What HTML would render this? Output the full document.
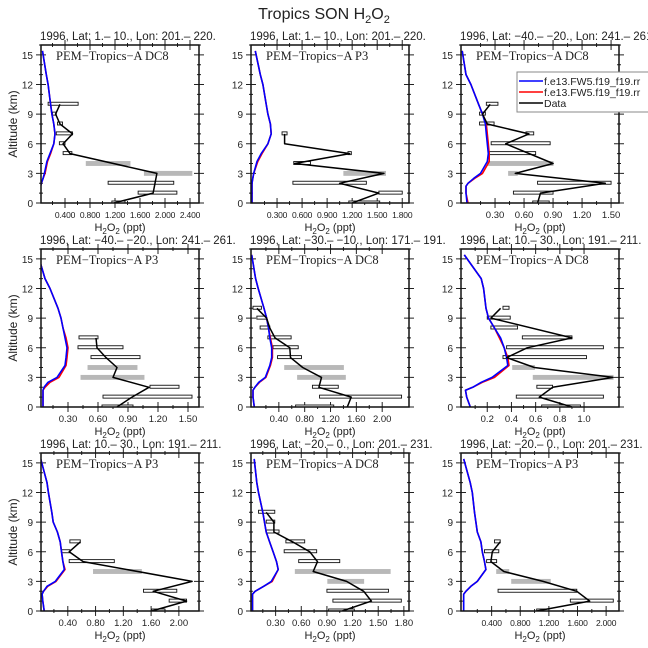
<!DOCTYPE html>
<html><head><meta charset="utf-8"><style>
body{margin:0;background:#fff}
svg{display:block}
text{font-family:"Liberation Sans",sans-serif;fill:#222}
</style></head><body>
<svg id="c" width="648" height="648" viewBox="0 0 648 648" xmlns="http://www.w3.org/2000/svg">
<text x="324" y="19" text-anchor="middle" font-size="16">Tropics SON H<tspan font-size="11" dy="4">2</tspan><tspan dy="-4">O</tspan><tspan font-size="11" dy="4">2</tspan></text>
</svg>
<script>
const panelTitles=["1996, Lat: 1.– 10., Lon: 201.– 220.","1996, Lat: 1.– 10., Lon: 201.– 220.","1996, Lat: −40.– −20., Lon: 241.– 261.","1996, Lat: −40.– −20., Lon: 241.– 261.","1996, Lat: −30.– −10., Lon: 171.– 191.","1996, Lat: 10.– 30., Lon: 191.– 211.","1996, Lat: 10.– 30., Lon: 191.– 211.","1996, Lat: −20.– 0., Lon: 201.– 231.","1996, Lat: −20.– 0., Lon: 201.– 231."];
const campaigns=["PEM−Tropics−A DC8","PEM−Tropics−A P3","PEM−Tropics−A DC8","PEM−Tropics−A P3","PEM−Tropics−A DC8","PEM−Tropics−A DC8","PEM−Tropics−A P3","PEM−Tropics−A DC8","PEM−Tropics−A P3"];
const xMin=[0.016,-0.012,-0.052,0.03,-0.031,-0.017,0.014,0.012,-0.028];
const xMax=[2.544,1.881,1.582,1.61,2.415,1.289,2.29,1.86,2.18];
const xTicks=[[0.4,0.8,1.2,1.6,2.0,2.4],[0.3,0.6,0.9,1.2,1.5,1.8],[0.3,0.6,0.9,1.2,1.5],[0.3,0.6,0.9,1.2,1.5],[0.4,0.8,1.2,1.6,2.0],[0.2,0.4,0.6,0.8,1.0],[0.4,0.8,1.2,1.6,2.0],[0.3,0.6,0.9,1.2,1.5,1.8],[0.4,0.8,1.2,1.6,2.0]];
const xDecimals=[3,3,2,2,2,1,2,2,3];
const yTicks=[0,3,6,9,12,15];
const modelAlt=[0,1,1.7,2,2.5,3,4.2,5,6,7,8,9,10,12,13,15.4];
const modelBlue=[
[0.01,0.01,0.01,0.02,0.05,0.07,0.11,0.16,0.22,0.24,0.22,0.19,0.17,0.13,0.1,0.04],
[0.0,0.0,0.0,0.0,0.01,0.02,0.06,0.11,0.19,0.23,0.22,0.19,0.17,0.13,0.1,0.04],
[0.01,0.0,0.0,0.02,0.08,0.15,0.22,0.23,0.22,0.21,0.2,0.17,0.13,0.05,0.0,-0.04],
[0.05,0.05,0.05,0.06,0.1,0.19,0.27,0.28,0.29,0.27,0.25,0.23,0.2,0.12,0.07,0.0],
[0.02,0.0,0.0,0.03,0.09,0.19,0.26,0.29,0.29,0.26,0.24,0.21,0.17,0.08,0.04,-0.02],
[0.06,0.03,0.02,0.08,0.15,0.24,0.37,0.36,0.34,0.31,0.26,0.21,0.19,0.17,0.15,0.01],
[0.06,0.04,0.03,0.05,0.1,0.22,0.35,0.33,0.31,0.29,0.25,0.19,0.17,0.12,0.1,0.01],
[0.03,0.03,0.03,0.06,0.16,0.25,0.33,0.31,0.27,0.23,0.19,0.17,0.15,0.1,0.08,0.05],
[0.01,0.01,0.01,0.04,0.11,0.2,0.32,0.3,0.27,0.25,0.2,0.18,0.16,0.13,0.1,0.01]];
const modelRed=[
[0.01,0.01,0.01,0.02,0.05,0.08,0.12,0.17,0.22,0.24,0.22,0.19,0.17,0.13,0.1,0.04],
[0.0,0.0,0.0,0.0,0.01,0.02,0.07,0.12,0.19,0.23,0.22,0.19,0.17,0.13,0.1,0.04],
[0.02,0.0,0.0,0.02,0.09,0.17,0.24,0.24,0.23,0.22,0.21,0.17,0.13,0.05,0.0,-0.04],
[0.05,0.05,0.05,0.07,0.12,0.21,0.28,0.29,0.3,0.28,0.25,0.23,0.2,0.12,0.07,0.0],
[0.02,0.0,0.0,0.03,0.1,0.2,0.27,0.3,0.3,0.27,0.24,0.21,0.17,0.08,0.04,-0.02],
[0.06,0.03,0.02,0.08,0.16,0.26,0.38,0.37,0.34,0.3,0.26,0.21,0.19,0.17,0.15,0.01],
[0.06,0.04,0.03,0.05,0.11,0.23,0.36,0.33,0.31,0.29,0.25,0.19,0.17,0.12,0.1,0.01],
[0.03,0.03,0.03,0.06,0.16,0.26,0.33,0.31,0.27,0.23,0.19,0.17,0.15,0.1,0.08,0.05],
[0.01,0.01,0.01,0.04,0.11,0.2,0.32,0.3,0.27,0.25,0.2,0.18,0.16,0.13,0.1,0.01]];
const obsAlt=[0,1,2,3,4,5,6,7,8,9,10];
const obsMed=[
[1.18,1.81,1.84,1.87,null,0.48,0.37,0.52,0.32,0.25,0.32],
[1.2,1.52,1.05,1.58,0.51,1.17,0.39,0.39,null,null,null],
[0.74,0.77,1.44,0.51,0.9,null,0.41,0.65,0.22,0.17,0.25],
[0.79,0.94,1.11,0.75,0.79,0.68,0.59,0.58,null,null,null],
[1.46,1.52,1.02,1.06,0.77,0.58,0.57,0.34,0.26,0.21,0.06],
[0.9,0.63,0.74,1.24,0.59,0.36,0.53,0.9,null,0.23,0.31],
[1.61,2.11,1.63,2.19,null,0.62,0.42,0.58,null,null,null],
[1.08,1.42,1.33,1.13,0.74,0.79,0.7,0.5,0.28,0.28,0.19],
[1.03,1.77,1.59,1.12,0.57,0.39,0.41,0.52,null,null,null]];
const obsLo=[
[1.15,1.57,1.09,1.67,0.74,0.37,0.31,0.26,0.28,0.2,0.13],
[1.16,1.52,0.49,1.1,0.5,1.15,null,0.36,null,null,null],
[0.69,0.49,0.74,0.44,0.22,0.24,0.26,0.62,0.14,0.14,0.21],
[0.64,0.65,1.12,0.43,0.5,0.53,0.4,0.41,null,null,null],
[0.66,1.03,0.92,0.69,0.49,0.38,0.31,0.23,0.11,0.06,0.0],
[0.65,0.44,0.61,0.58,0.41,0.33,0.36,0.49,0.23,0.2,0.33],
[1.61,1.86,1.49,null,0.77,0.42,0.31,0.43,null,null,null],
[0.92,0.97,0.9,0.91,0.53,0.57,0.4,0.42,0.19,0.19,0.1],
[1.03,1.5,0.49,0.68,0.47,0.33,0.3,0.44,null,null,null]];
const obsHi=[
[1.36,2.19,2.14,2.43,1.44,0.51,0.4,0.52,0.36,0.26,0.61],
[1.53,1.8,1.37,1.6,0.7,1.19,null,0.42,null,null,null],
[0.86,0.9,1.5,0.53,0.9,0.72,0.87,0.7,0.29,0.2,0.33],
[0.95,1.54,1.41,1.06,0.99,1.02,0.85,0.6,null,null,null],
[1.25,2.3,1.32,1.43,1.4,0.75,0.7,0.59,0.26,0.21,0.13],
[0.97,1.16,0.74,1.24,0.59,1.02,1.16,0.9,0.45,0.39,0.38],
[1.8,2.11,1.97,null,1.46,1.07,0.43,0.58,null,null,null],
[1.22,1.77,1.62,1.33,1.64,1.05,0.78,0.64,0.34,0.29,0.29],
[1.2,2.1,1.59,1.22,0.64,0.47,0.5,0.52,null,null,null]];
const obsGray=[[3,4],[3],[3,4],[3,4],[3,4],[3,4],[4],[3,4],[3,4]];

const NS="http://www.w3.org/2000/svg";
const svg=document.getElementById('c');
const colLeft=[41,251,461], rowTop=[45,249,453], W=158, H=158, yMaxKm=16;
function mk(tag,attrs,parent){const e=document.createElementNS(NS,tag);for(const k in attrs)e.setAttribute(k,attrs[k]);(parent||svg).appendChild(e);return e;}
function h2o2(g,x,y){const t=mk('text',{x:x,y:y,'text-anchor':'middle','font-size':11},g);t.innerHTML='H<tspan font-size="8" dy="3">2</tspan><tspan dy="-3">O</tspan><tspan font-size="8" dy="3">2</tspan><tspan dy="-3"> (ppt)</tspan>';return t;}
const defs=mk('defs',{});
for(let p=0;p<9;p++){
  const L=colLeft[p%3], T=rowTop[Math.floor(p/3)], R=L+W, B=T+H;
  const xs=v=>L+(v-xMin[p])/(xMax[p]-xMin[p])*W;
  const ys=a=>B-a/yMaxKm*H;
  const g=mk('g',{});
  
  
  const cp=mk('clipPath',{id:'cp'+p},defs);mk('rect',{x:L,y:T,width:W,height:H},cp);
  const tt=mk('text',{x:L-1,y:T-5,'font-size':11.5},g);tt.textContent=panelTitles[p];
  
  
  for(let k=0;k<=16;k++){const y=ys(k);const len=(k%3===0)?5:2;
    mk('line',{x1:L-len,x2:L+len,y1:y,y2:y,stroke:'#222','stroke-width':1},g);
    mk('line',{x1:R-len,x2:R+len,y1:y,y2:y,stroke:'#222','stroke-width':1},g);}
  yTicks.forEach(v=>{const t=mk('text',{x:L-8,y:ys(v)+4,'text-anchor':'end','font-size':10},g);t.textContent=v;
    
    });
  xTicks[p].forEach((v,i)=>{const x=xs(v);
    mk('line',{x1:x,x2:x,y1:B-5,y2:B+5,stroke:'#222'},g);mk('line',{x1:x,x2:x,y1:T-5,y2:T+5,stroke:'#222'},g);
    const st=(i>0?xTicks[p][i]-xTicks[p][i-1]:xTicks[p][1]-xTicks[p][0])/2;const xm=xs(v-st);
    if(xm>L){mk('line',{x1:xm,x2:xm,y1:B-2,y2:B+2,stroke:'#222'},g);mk('line',{x1:xm,x2:xm,y1:T-2,y2:T+2,stroke:'#222'},g);}
    const fs=xDecimals[p]===3?8.5:9.5;
    const t=mk('text',{x:x,y:B+15,'text-anchor':'middle','font-size':fs,'letter-spacing':xDecimals[p]===3?'-0.2':'0'},g);t.textContent=v.toFixed(xDecimals[p]);
    
    });
  const xl=h2o2(g,L+W/2,B+28);
  
  
  if(p%3===0){const yt=mk('text',{x:0,y:0,transform:`translate(17,${(T+B)/2}) rotate(-90)`,'text-anchor':'middle','font-size':12},g);yt.textContent='Altitude (km)';
    
    }
  const pg=mk('g',{'clip-path':`url(#cp${p})`},g);
  obsAlt.forEach((a,i)=>{const lo=obsLo[p][i],hi=obsHi[p][i];if(lo==null)return;
    const gray=obsGray[p].includes(a);
    const r=mk('rect',{x:xs(lo),y:ys(a)-2,width:Math.max(xs(hi)-xs(lo),3),height:gray?4:3,fill:gray?'#b8b8b8':'#fff',stroke:gray?'#b8b8b8':'#111','stroke-width':0.9},pg);
    
    });
  const drawLine=(vals,alts,color,w,name)=>{let d='';alts.forEach((a,i)=>{const v=vals[i];if(v==null)return;d+=(d?'L':'M')+xs(v).toFixed(1)+','+ys(a).toFixed(1);});
    const l=mk('path',{d:d,fill:'none',stroke:color,'stroke-width':w,'stroke-linejoin':'round'},pg);
    
    };
  drawLine(modelRed[p],modelAlt,'#f00',1.6,'model-red-line');
  drawLine(modelBlue[p],modelAlt,'#00f',1.6,'model-blue-line');
  drawLine(obsMed[p],obsAlt,'#000',1.5,'obs-median-line');
  const fr=mk('rect',{x:L,y:T,width:W,height:H,fill:'none',stroke:'#111','stroke-width':1.5},g);
  
  
  const ct=mk('text',{x:L+15,y:T+15,'font-size':12.5,style:'font-family:"Liberation Serif",serif'},g);ct.textContent=campaigns[p];
  
  
}
const lg=mk('g',{});


mk('rect',{x:517,y:72,width:140,height:40,fill:'#fff',stroke:'#888','stroke-width':1},lg);
const legNames=['f.e13.FW5.f19_f19.rr','f.e13.FW5.f19_f19.rr','Data'];
const legColors=['#00f','#f00','#000'];
legNames.forEach((n,i)=>{const y=81+i*11;
  const e=mk('g',{},lg);
  
  
  mk('line',{x1:519,x2:543,y1:y,y2:y,stroke:legColors[i],'stroke-width':1.6},e);
  const t=mk('text',{x:544,y:y+4,'font-size':10.5},e);t.textContent=n;});
</script>
</body></html>
